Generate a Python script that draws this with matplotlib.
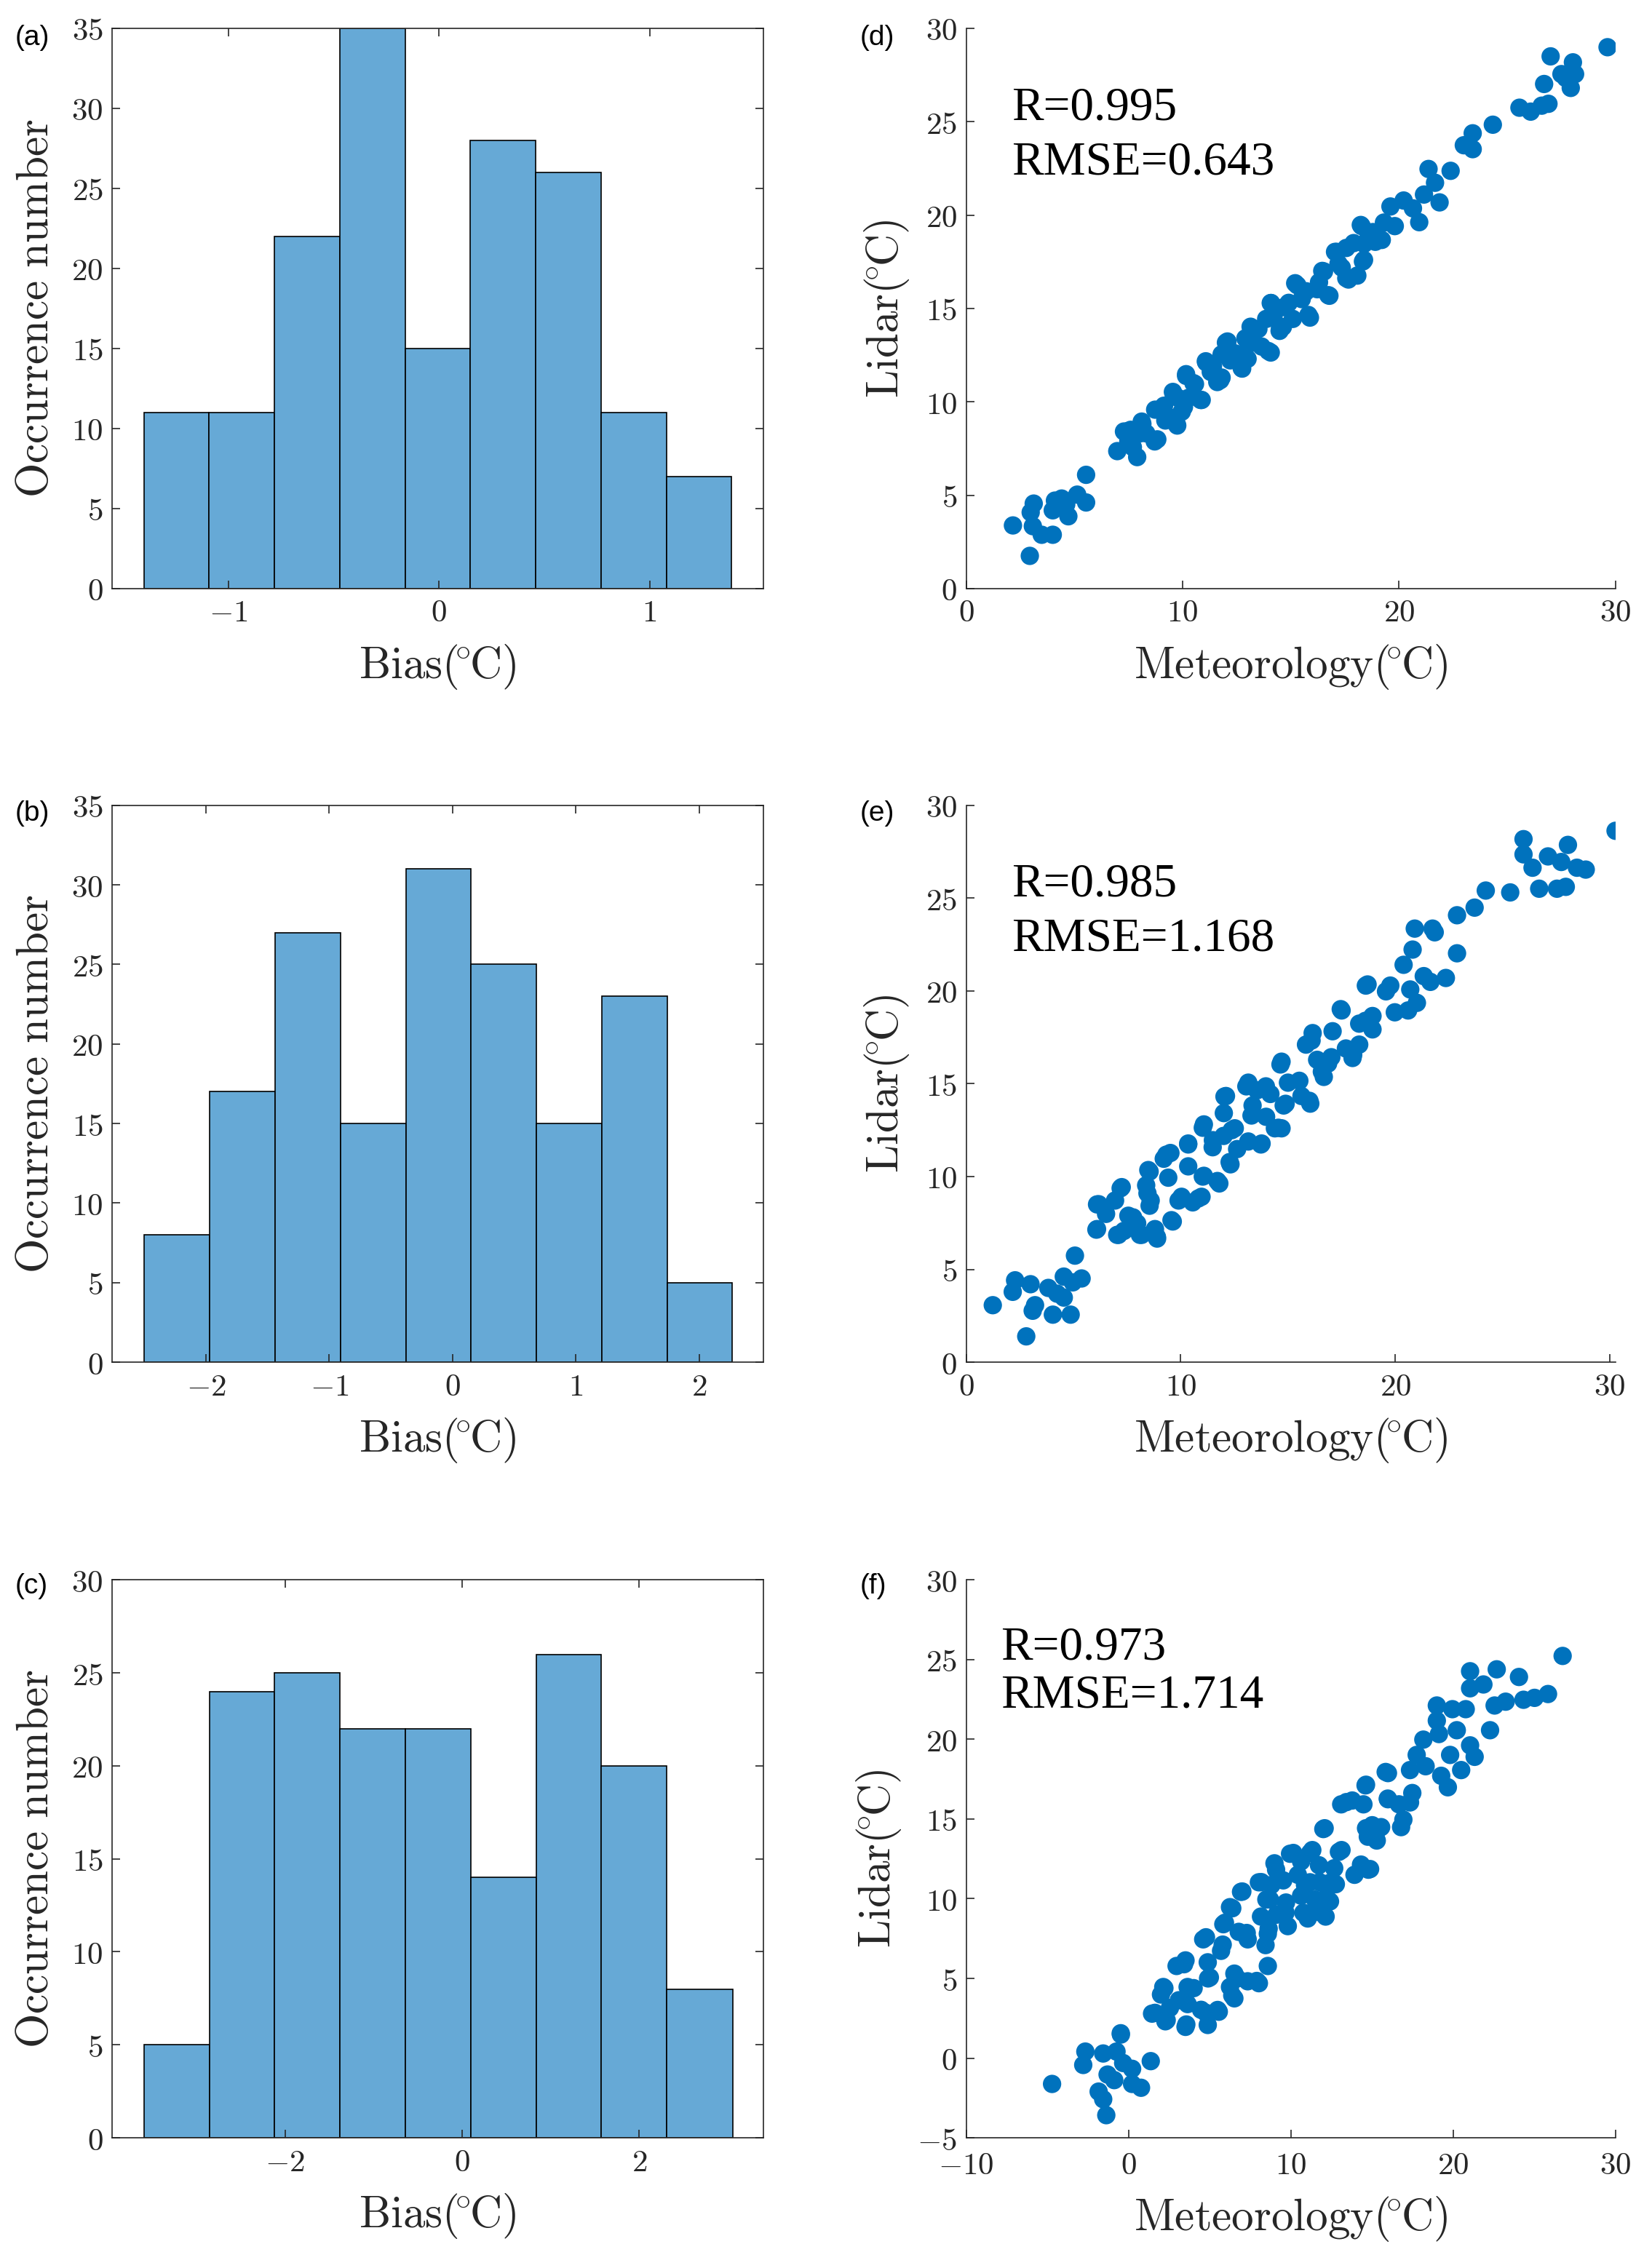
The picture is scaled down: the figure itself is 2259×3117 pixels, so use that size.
import numpy as np
import matplotlib
matplotlib.use("Agg")
import matplotlib.pyplot as plt
from matplotlib.ticker import FuncFormatter, MultipleLocator

plt.rcParams['mathtext.fontset'] = 'cm'

# histogram counts and bin edges (bias, degC)
a_counts = [11, 11, 22, 35, 15, 28, 26, 11, 7]
a_edges = [-1.40, -1.09, -0.78, -0.47, -0.16, 0.15, 0.46, 0.77, 1.08, 1.39]
b_counts = [8, 17, 27, 15, 31, 25, 15, 23, 5]
b_edges = [-2.50, -1.97, -1.44, -0.91, -0.38, 0.15, 0.68, 1.21, 1.74, 2.27]
c_counts = [5, 24, 25, 22, 22, 14, 26, 20, 8]
c_edges = [-3.59, -2.85, -2.12, -1.38, -0.64, 0.10, 0.84, 1.57, 2.31, 3.06]

# scatter: meteorology vs lidar temperature (degC)
d_x = [2.16, 2.94, 3.12, 2.98, 3.08, 3.49, 4.0, 4.1, 4.0, 4.72, 4.62, 5.13, 5.54, 5.54, 4.41,
       6.98, 7.29, 7.49, 7.9, 7.7, 8.11, 8.32, 8.83, 8.73, 9.14, 9.55, 9.75, 9.96, 9.45, 10.16,
       10.27, 10.88, 10.57, 11.09, 11.6, 11.4, 12.0, 12.2, 11.8, 12.73, 12.63, 13.24, 13.14, 13.65,
       14.07, 13.86, 14.07, 14.48, 14.68, 15.09, 15.3, 15.71, 15.81, 15.5, 16.22, 16.53, 16.73,
       17.04, 17.35, 17.56, 17.66, 18.07, 18.27, 18.38, 18.38, 18.79, 19.2, 19.6, 19.8, 20.21,
       20.64, 20.93, 21.15, 21.36, 21.66, 21.87, 22.38, 22.99, 23.4, 23.4, 24.33, 25.56, 26.08,
       26.59, 26.9, 26.7, 27.0, 27.5, 28.03, 27.93, 28.13, 27.7, 29.63,
       9.2, 9.8, 10.5, 11.3, 12.4, 12.9, 13.5, 14.2, 14.9, 15.6, 16.3, 17.2, 17.9, 18.6, 19.3,
       8.0, 7.6, 11.8, 13.0, 14.5,
       7.47, 8.14, 8.71, 9.05, 9.72, 9.59, 10.06, 10.16, 10.83, 11.07, 11.74, 12.07, 12.75, 13.19,
       13.96, 14.09, 14.63, 15.2, 15.88, 16.45, 16.78, 17.12, 17.56, 18.23, 18.33, 18.9]
d_y = [3.38, 1.75, 4.55, 4.08, 3.34, 2.88, 2.88, 4.71, 4.19, 3.87, 4.5, 5.03, 4.61, 6.09, 4.82,
       7.36, 8.41, 7.89, 7.04, 7.57, 8.94, 8.31, 7.99, 9.58, 9.79, 10.53, 8.73, 9.47, 9.15, 11.48,
       10.21, 10.1, 10.95, 12.11, 11.06, 11.9, 13.17, 12.22, 12.54, 11.8, 12.54, 13.17, 14.02, 12.96,
       12.64, 14.44, 15.29, 13.8, 15.07, 14.44, 16.24, 15.92, 14.65, 15.5, 16.03, 16.98, 15.71,
       18.03, 17.19, 18.24, 16.55, 16.76, 19.41, 17.6, 18.46, 19.09, 18.67, 20.46, 19.41, 20.78,
       20.36, 19.62, 21.1, 22.47, 21.73, 20.68, 22.37, 23.74, 24.38, 23.53, 24.84, 25.75, 25.54,
       25.86, 25.96, 27.02, 28.5, 27.55, 28.18, 26.81, 27.55, 27.34, 28.99,
       9.0, 10.2, 11.0, 11.6, 12.6, 13.4, 13.9, 14.6, 15.3, 15.8, 16.4, 17.4, 18.5, 18.9, 19.6,
       8.3, 8.5, 11.3, 12.3, 14.0,
       8.43, 8.82, 7.88, 9.6, 8.82, 10.38, 9.72, 11.39, 10.1, 12.17, 11.16, 13.23, 11.78, 13.73,
       12.72, 15.29, 14.01, 16.35, 14.51, 17.01, 15.68, 18.03, 16.62, 19.47, 17.52, 18.57]

e_x = [1.24, 2.17, 2.28, 3.0, 2.8, 3.21, 3.1, 3.83, 4.04, 4.24, 4.55, 4.55, 4.87, 5.07, 4.97, 5.38,
       6.1, 6.1, 6.52, 7.04, 7.25, 6.94, 7.35, 7.56, 7.97, 8.18, 8.49, 8.39, 8.6, 8.9, 8.8, 9.21,
       9.42, 9.52, 9.63, 10.04, 10.35, 10.56, 10.35, 10.97, 11.08, 11.08, 11.49, 11.8, 12.0, 12.11,
       12.32, 12.52, 12.63, 12.01, 13.15, 13.15, 13.35, 13.77, 13.56, 13.98, 14.39, 14.18, 14.7,
       14.8, 14.7, 15.0, 15.53, 15.63, 16.04, 15.84, 16.15, 16.36, 16.67, 16.87, 17.08, 17.5, 17.7,
       18.01, 18.32, 18.32, 18.63, 18.94, 18.94, 19.57, 19.77, 19.98, 20.39, 20.6, 20.81, 20.91,
       20.7, 21.01, 21.33, 21.64, 21.74, 21.84, 22.36, 22.88, 22.88, 23.7, 24.22, 25.36, 25.98,
       25.98, 26.4, 26.71, 27.12, 27.54, 27.74, 27.95, 28.05, 28.47, 28.88, 30.27,
       6.07, 6.18, 7.2, 7.1, 7.78, 8.1, 8.89, 8.55, 8.45, 8.55, 9.57, 9.33, 9.9, 10.35, 10.82,
       11.03, 11.03, 11.71, 11.5, 12.04, 12.28, 12.38, 13.06, 13.3, 13.74, 13.97, 14.55, 14.65,
       14.89, 16.0, 16.1, 16.58, 17.02, 17.46, 18.04, 18.61, 18.71]
e_y = [3.07, 3.79, 4.41, 4.2, 1.39, 3.07, 2.77, 4.0, 2.56, 3.69, 4.61, 3.48, 2.56, 5.74, 4.30, 4.51,
       7.17, 8.5, 7.99, 6.86, 9.43, 8.71, 7.07, 7.89, 7.48, 6.86, 10.35, 9.53, 8.71, 6.66, 7.17, 10.96,
       9.94, 11.27, 7.58, 8.91, 11.78, 8.61, 10.55, 8.91, 10.04, 12.81, 11.58, 9.63, 12.19, 14.34,
       10.66, 12.6, 11.48, 13.42, 15.06, 11.89, 13.83, 11.78, 14.65, 13.22, 12.6, 14.45, 12.6,
       13.83, 16.19, 15.06, 15.16, 14.34, 13.93, 17.11, 17.73, 16.29, 15.37, 16.09, 17.83, 18.95, 16.9,
       16.39, 17.11, 18.24, 20.29, 18.65, 17.93, 19.98, 20.29, 18.85, 21.41, 18.95, 22.23, 23.36,
       20.08, 19.36, 20.8, 20.49, 23.36, 23.16, 20.7, 24.08, 22.03, 24.49, 25.41, 25.31, 28.18,
       27.36, 26.64, 25.51, 27.25, 25.51, 26.95, 25.61, 27.87, 26.64, 26.54, 28.63,
       7.14, 8.51, 9.37, 6.86, 7.8, 6.86, 6.75, 10.27, 9.1, 8.43, 7.65, 11.18, 8.71, 11.73, 8.82,
       12.63, 10.0, 9.76, 11.96, 14.31, 10.78, 12.5, 14.86, 13.29, 11.73, 14.86, 12.63, 16.04,
       13.92, 14.08, 17.33, 15.65, 16.43, 19.02, 16.55, 18.39, 20.35]

f_x = [-4.71, -2.66, -2.79, -1.84, -1.56, -1.37, -1.56, -1.29, -0.74, -0.47, -0.88, -0.33, 0.22,
       0.77, 0.22, 1.37, 1.45, 2.27, 2.14, 2.0, 2.55, 2.96, 3.1, 3.51, 3.51, 3.64, 3.64, 4.47, 4.6,
       4.88, 5.01, 4.88, 5.56, 5.7, 5.84, 6.25, 6.25, 6.52, 6.52, 6.93, 6.79, 7.34, 7.34, 8.03, 8.03,
       8.16, 8.44, 8.58, 8.58, 8.71, 8.99, 9.12, 9.53, 9.67, 9.81, 9.95, 10.63, 10.63, 10.77, 11.04,
       11.18, 11.32, 11.59, 11.73, 11.86, 12.0, 12.14, 12.27, 12.41, 12.77, 12.96, 13.1, 13.78,
       13.92, 14.33, 14.47, 14.6, 14.74, 14.88, 15.01, 15.29, 15.56, 15.84, 15.97, 16.66, 16.79,
       16.93, 17.34, 17.48, 17.34, 17.75, 18.3, 18.16, 18.99, 18.99, 19.12, 19.26, 19.67, 19.81,
       19.95, 20.22, 20.49, 20.77, 21.04, 21.04, 21.04, 21.32, 21.86, 22.27, 22.55, 22.68, 23.23,
       24.05, 24.33, 25.01, 25.84, 26.74,
       -0.48, 1.63, 2.21, 2.35, 3.56, 3.42, 4.01, 4.77, 4.9, 5.49, 4.77, 5.8, 5.94, 6.39, 6.39,
       7.01, 7.28, 6.7, 7.9, 8.18, 8.49, 8.63, 8.8, 9.7, 9.09, 10.15, 10.43, 10.87, 11.49, 11.18,
       11.77, 12.08, 12.39, 12.67, 13.12, 14.32, 14.77, 14.63, 15.21, 13.42, 14.63, 15.98, 15.98]
f_y = [-1.62, 0.41, -0.43, -2.10, 0.29, -3.58, -2.58, -1.03, 0.41, 1.48, -1.38, -0.31, -0.67,
       -1.86, -1.62, -0.19, 2.79, 2.31, 4.46, 3.99, 3.15, 5.78, 3.63, 1.96, 6.13, 4.46, 3.39, 3.03, 7.45,
       2.08, 5.06, 6.01, 2.91, 6.73, 8.40, 9.47, 4.46, 3.75, 5.30, 10.43, 7.92, 7.45, 4.82, 4.70, 11.03,
       8.88, 7.09, 5.78, 7.80, 9.95, 12.22, 9.0, 11.15, 9.12, 8.28, 12.82, 12.34, 10.19, 9.12, 8.76,
       11.03, 13.05, 9.71, 12.10, 9.12, 14.37, 8.88, 10.67, 9.83, 10.91, 12.94, 15.92, 16.16,
       11.50, 11.98, 15.92, 17.11, 13.89, 11.86, 14.61, 13.65, 14.49, 17.95, 16.28, 15.92, 14.49,
       14.96, 16.04, 16.63, 18.07, 19.02, 18.31, 19.98, 22.12, 21.17, 20.33, 17.71, 16.99, 19.02,
       21.89, 20.57, 18.07, 21.89, 24.27, 23.2, 19.62, 18.9, 23.44, 20.57, 22.12, 24.39, 22.36,
       23.91, 22.48, 22.6, 22.84, 25.23,
       1.56, 2.84, 4.39, 2.38, 2.11, 5.89, 4.39, 2.84, 5.0, 3.02, 7.58, 7.12, 8.49, 9.4, 3.93,
       10.45, 7.85, 5.0, 4.84, 11.04, 9.95, 8.12, 10.86, 9.76, 11.82, 12.87, 11.5, 10.86, 9.95, 12.87,
       11.04, 14.42, 10.99, 11.91, 13.05, 12.14, 11.82, 14.42, 13.96, 16.06, 17.15, 17.88, 16.24]

hist_color = '#66a9d6'
dot_color = '#0072bd'
ax_color = '#262626'

fig = plt.figure(figsize=(22.59, 31.17), dpi=100)

left_l, width_l = 0.0683, 0.396
left_r, width_r = 0.5877, 0.395
rows = [(0.7405, 0.247), (0.3994, 0.2455), (0.0574, 0.246)]

mathfmt = FuncFormatter(lambda v, p: f'${v:g}$')


def deg_label(word):
    # word followed by (degC) in computer modern
    return r'$\mathrm{' + word + r'}(\!^{\circ}\hspace{-0.09}\mathrm{C})$'


def style_axes(ax):
    for s in ax.spines.values():
        s.set_linewidth(1.2)
        s.set_color(ax_color)
    ax.tick_params(direction='in', length=8, width=1.2, labelsize=31,
                   colors=ax_color, pad=9)
    ax.xaxis.set_major_formatter(mathfmt)
    ax.yaxis.set_major_formatter(mathfmt)


hists = [(a_counts, a_edges, (-1.55, 1.54), 35, 1),
         (b_counts, b_edges, (-2.76, 2.52), 35, 1),
         (c_counts, c_edges, (-3.95, 3.40), 30, 2)]

for i, (counts, edges, xl, ytop, xstep) in enumerate(hists):
    bottom, h = rows[i]
    ax = fig.add_axes([left_l, bottom, width_l, h])
    edges = np.array(edges)
    ax.bar(edges[:-1], counts, width=np.diff(edges), align='edge',
           color=hist_color, edgecolor='black', linewidth=1.2)
    ax.set_xlim(*xl)
    ax.set_ylim(0, ytop)
    ax.xaxis.set_major_locator(MultipleLocator(xstep))
    ax.yaxis.set_major_locator(MultipleLocator(5))
    style_axes(ax)
    ax.tick_params(top=True, right=True)
    ax.set_xlabel(deg_label('Bias'), fontsize=44, color=ax_color, labelpad=14)
    ax.set_ylabel(r'$\mathrm{Occurrence\ number}$', fontsize=44, color=ax_color, labelpad=14)

scatters = [(d_x, d_y, (0, 30), (0, 30), 'R=0.995', 'RMSE=0.643', 0.07, 0.837, 0.739),
            (e_x, e_y, (0, 30.27), (0, 30), 'R=0.985', 'RMSE=1.168', 0.07, 0.837, 0.739),
            (f_x, f_y, (-10, 30), (-5, 30), 'R=0.973', 'RMSE=1.714', 0.053, 0.857, 0.771)]

for i, (xs, ys, xl, yl, t1, t2, tx, ty1, ty2) in enumerate(scatters):
    bottom, h = rows[i]
    ax = fig.add_axes([left_r, bottom, width_r, h])
    ax.scatter(xs, ys, s=330, color=dot_color, edgecolors='none')
    ax.set_xlim(*xl)
    ax.set_ylim(*yl)
    ax.xaxis.set_major_locator(MultipleLocator(10))
    ax.yaxis.set_major_locator(MultipleLocator(5))
    ax.spines['top'].set_visible(False)
    ax.spines['right'].set_visible(False)
    style_axes(ax)
    if i == 2:
        ax.tick_params(axis='x', pad=12)
    ax.set_xlabel(deg_label('Meteorology'), fontsize=44, color=ax_color, labelpad=14)
    ax.set_ylabel(deg_label('Lidar'), fontsize=44, color=ax_color, labelpad=14)
    ax.text(tx, ty1, t1, transform=ax.transAxes, fontsize=47,
            family='Liberation Serif', color='black')
    ax.text(tx, ty2, t2, transform=ax.transAxes, fontsize=47,
            family='Liberation Serif', color='black')

# panel letters
for lab, x, y in [('(a)', 0.0093, 0.989), ('(b)', 0.0093, 0.647), ('(c)', 0.0093, 0.3064),
                  ('(d)', 0.523, 0.989), ('(e)', 0.523, 0.647), ('(f)', 0.523, 0.3064)]:
    fig.text(x, y, lab, fontsize=28, family='Liberation Sans', va='top', ha='left')

fig.savefig('out.png', dpi=100, facecolor='white')
